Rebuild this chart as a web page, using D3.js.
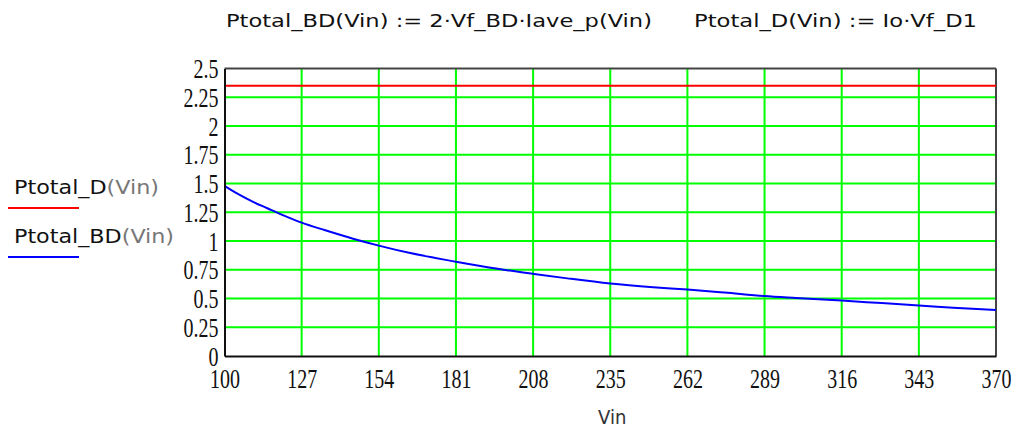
<!DOCTYPE html>
<html><head><meta charset="utf-8">
<script src="https://cdn.jsdelivr.net/npm/d3@7"></script>
<style>
html,body{margin:0;padding:0;background:#fff;}
svg{display:block;}
</style></head>
<body>
<svg id="chart" width="1021" height="428"></svg>
<script>
// ---- data ----
const vin = [100,105,110,115,120,127,135,145,154,165,181,195,208,220,235,250,262,275,289,300,316,330,343,355,370];
const ptotalBD = [1.48,1.405,1.34,1.285,1.23,1.16,1.095,1.02,0.96,0.895,0.82,0.76,0.715,0.675,0.63,0.598,0.578,0.552,0.522,0.505,0.482,0.46,0.44,0.42,0.40];
const ptotalD = [2.35,2.35];
const ptotalDVin = [100,370];
const xTicks = [100,127,154,181,208,235,262,289,316,343,370];
const yTicks = [0,0.25,0.5,0.75,1,1.25,1.5,1.75,2,2.25,2.5];
const yTickLabels = ["0","0.25","0.5","0.75","1","1.25","1.5","1.75","2","2.25","2.5"];
const titleParts = ["Ptotal_BD(Vin) := 2·Vf_BD·Iave_p(Vin)", "Ptotal_D(Vin) := Io·Vf_D1"];
const legendNames = ["Ptotal_D", "Ptotal_BD"];
const legendArgs = ["(Vin)", "(Vin)"];
const legendColors = ["#ff0000", "#0000ff"];
const xLabel = "Vin";

// ---- layout ----
const svg = d3.select("#chart");
const L = 224.5, R = 996, T = 68.5, B = 356;
const x = d3.scaleLinear().domain([100,370]).range([L,R]);
const y = d3.scaleLinear().domain([0,2.5]).range([B,T]);

// grid
const grid = svg.append("g");
grid.selectAll("line.v").data(xTicks.slice(1,-1)).join("line")
  .attr("x1", d=>x(d)).attr("x2", d=>x(d)).attr("y1", T).attr("y2", B)
  .attr("stroke", "#00ff00").attr("stroke-width", 2);
grid.selectAll("line.h").data(yTicks.slice(1,-1)).join("line")
  .attr("x1", L).attr("x2", R).attr("y1", d=>y(d)).attr("y2", d=>y(d))
  .attr("stroke", "#00ff00").attr("stroke-width", 2);

// frame top/right
svg.append("line").attr("x1",L).attr("x2",R).attr("y1",T).attr("y2",T).attr("stroke","#444").attr("stroke-width",2);
svg.append("line").attr("x1",R).attr("x2",R).attr("y1",T).attr("y2",B).attr("stroke","#444").attr("stroke-width",2);

// series
const line = d3.line().x(d=>x(d[0])).y(d=>y(d[1])).curve(d3.curveMonotoneX);
svg.append("path").datum(ptotalDVin.map((v,i)=>[v,ptotalD[i]]))
  .attr("d", line).attr("fill","none").attr("stroke","#ff0000").attr("stroke-width",2);
svg.append("path").datum(vin.map((v,i)=>[v,ptotalBD[i]]))
  .attr("d", line).attr("fill","none").attr("stroke","#0000ff").attr("stroke-width",2);

// axes
const tickFont = "'Liberation Serif', 'Times New Roman', serif";
const SY = 1.35;
const yAxis = d3.axisLeft(y).tickValues(yTicks).tickSize(0).tickPadding(6)
  .tickFormat((d,i)=>yTickLabels[i]);
const gy = svg.append("g").attr("transform",`translate(${L},0)`).call(yAxis);
gy.select(".domain").attr("stroke","#111").attr("stroke-width",2);
gy.selectAll("text").attr("font-family", tickFont).attr("font-size", 20).attr("fill","#111")
  .attr("dy", "0.34em").attr("transform",`scale(1,${SY})`).attr("y", 0);

const xAxis = d3.axisBottom(x).tickValues(xTicks).tickSize(0).tickPadding(0);
const gx = svg.append("g").attr("transform",`translate(0,${B})`).call(xAxis);
gx.select(".domain").attr("stroke","#111").attr("stroke-width",2);
gx.selectAll("text").attr("font-family", tickFont).attr("font-size", 20).attr("fill","#111")
  .attr("dy", 0).attr("y", 32/SY).attr("transform",`scale(1,${SY})`);

// title
const titleFont = "'DejaVu Sans Condensed', 'DejaVu Sans', sans-serif";
const titlePos = [[226, 652], [694, 977]];
titleParts.forEach((t,i)=>{
  svg.append("text").attr("x", titlePos[i][0]).attr("y", 27)
    .attr("font-family", titleFont).attr("font-size", 18).attr("fill","#111")
    .attr("textLength", titlePos[i][1]-titlePos[i][0]).attr("lengthAdjust","spacingAndGlyphs")
    .text(t);
});

// legend
const legY = [194, 243];
legendNames.forEach((n,i)=>{
  const t = svg.append("text").attr("x", 14).attr("y", legY[i])
    .attr("font-family", titleFont).attr("font-size", 20).attr("fill","#111")
    .attr("textLength", i===0?145:160).attr("lengthAdjust","spacingAndGlyphs");
  t.append("tspan").text(n);
  t.append("tspan").attr("fill","#777").text(legendArgs[i]);
  svg.append("line").attr("x1", 8).attr("x2", 79).attr("y1", legY[i]+14).attr("y2", legY[i]+14)
    .attr("stroke", legendColors[i]).attr("stroke-width", 2);
});

// x label
svg.append("text").attr("x", (L+R)/2+2).attr("y", 424).attr("text-anchor","middle")
  .attr("font-family", titleFont).attr("font-size", 20).attr("fill","#333").text(xLabel);
</script>
</body></html>
